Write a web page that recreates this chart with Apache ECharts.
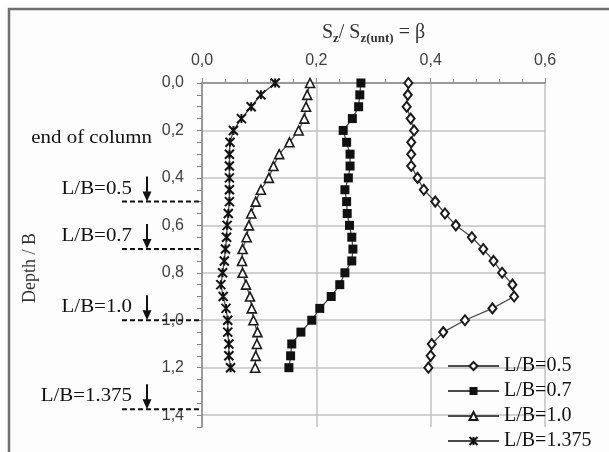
<!DOCTYPE html>
<html><head><meta charset="utf-8">
<script src="https://cdn.jsdelivr.net/npm/echarts@6/dist/echarts.min.js"></script>
<style>html,body{margin:0;padding:0;background:#fff}#c{width:609px;height:452px}</style>
</head><body><div id="c"></div>
<script>
// ---- data ----
const depth = [0.00,0.05,0.10,0.15,0.20,0.25,0.30,0.35,0.40,0.45,0.50,0.55,0.60,0.65,0.70,0.75,0.80,0.85,0.90,0.95,1.00,1.05,1.10,1.15,1.20];
const beta05 = [0.361,0.360,0.358,0.365,0.371,0.366,0.366,0.366,0.377,0.388,0.408,0.425,0.444,0.472,0.492,0.510,0.525,0.543,0.546,0.508,0.460,0.422,0.402,0.400,0.396];
const beta07 = [0.278,0.276,0.274,0.263,0.247,0.253,0.259,0.259,0.256,0.250,0.253,0.254,0.258,0.262,0.264,0.262,0.250,0.241,0.226,0.206,0.192,0.173,0.157,0.155,0.152];
const beta10 = [0.189,0.184,0.182,0.179,0.169,0.153,0.135,0.125,0.117,0.103,0.094,0.086,0.082,0.078,0.071,0.070,0.071,0.077,0.084,0.087,0.090,0.097,0.096,0.094,0.093];
const beta1375 = [0.128,0.103,0.086,0.069,0.055,0.049,0.048,0.048,0.048,0.048,0.048,0.046,0.044,0.043,0.041,0.039,0.036,0.033,0.037,0.042,0.045,0.045,0.047,0.047,0.050];
const seriesNames = ['L/B=0.5','L/B=0.7','L/B=1.0','L/B=1.375'];
const lbDepths = [0.5, 0.7, 1.0, 1.375];
const lbLabels = ['L/B=0.5','L/B=0.7','L/B=1.0','L/B=1.375'];
const columnLabel = 'end of column';
const xTitle = '{m|S}{s|z}{m|/ S}{s|z(unt)}{m| = β}';
const yTitle = 'Depth / B';

// ---- chart ----
const SER = '"Liberation Serif","Times New Roman",serif';
const SANS = '"Liberation Sans",Arial,sans-serif';
const lineGrey = '#4a4a4a';
const fmt = v => (Math.round(v*100)/100).toFixed(1).replace('.', ',');
const ySplit = [];
for (let i = 0; i < 30; i++) ySplit.push(i % 4 === 0 && i <= 28 ? '#c2c2c2' : 'rgba(0,0,0,0)');
const pairs = vals => vals.map((v, i) => [v, depth[i]]);
const star = 'path://M0,0L10,10M10,0L0,10M5,0L5,10';

const chart = echarts.init(document.getElementById('c'), null, {renderer: 'canvas'});
const option = {
  backgroundColor: '#ffffff',
  animation: false,
  grid: {left: 202, top: 83, right: 64, bottom: 25, containLabel: false},
  xAxis: {
    type: 'value', position: 'top', min: 0, max: 0.6, interval: 0.2,
    name: xTitle, nameLocation: 'middle', nameGap: 38,
    nameTextStyle: {rich: {
      m: {fontFamily: SER, fontSize: 20, color: '#333', lineHeight: 24, verticalAlign: 'middle'},
      s: {fontFamily: SER, fontSize: 13, fontWeight: 'bold', color: '#333', lineHeight: 12, verticalAlign: 'bottom'}
    }},
    axisLine: {show: true, lineStyle: {color: '#888', width: 1.5}},
    axisTick: {show: true, inside: false, length: 5, lineStyle: {color: '#888'}},
    minorTick: {show: true, splitNumber: 5, length: 4, lineStyle: {color: '#888'}},
    axisLabel: {margin: 14, fontFamily: SANS, fontSize: 16, color: '#404040', formatter: fmt},
    splitLine: {show: true, lineStyle: {color: '#c2c2c2', width: 1.5}}
  },
  yAxis: {
    type: 'value', inverse: true, min: 0, max: 1.45, interval: 0.05,
    axisLine: {show: true, lineStyle: {color: '#888', width: 1.5}},
    axisTick: {show: true, inside: false, length: 5, lineStyle: {color: '#888'}},
    axisLabel: {margin: 18, fontFamily: SANS, fontSize: 16, color: '#404040',
      formatter: v => { const k = v / 0.2; return Math.abs(k - Math.round(k)) < 1e-6 ? fmt(v) : ''; }},
    splitLine: {show: true, lineStyle: {color: ySplit, width: 1.5}}
  },
  legend: {
    orient: 'vertical', left: 447, top: 356, padding: 0, itemWidth: 51, itemHeight: 10, itemGap: 5,
    data: seriesNames,
    textStyle: {fontFamily: SER, fontSize: 20, color: '#111', lineHeight: 19}
  },
  series: [
    {name: seriesNames[0], type: 'line', data: pairs(beta05), symbol: 'diamond', symbolSize: [8, 10],
     lineStyle: {color: lineGrey, width: 1.3}, itemStyle: {color: '#fff', borderColor: '#1a1a1a', borderWidth: 2}},
    {name: seriesNames[1], type: 'line', data: pairs(beta07), symbol: 'rect', symbolSize: 9,
     lineStyle: {color: lineGrey, width: 1.3}, itemStyle: {color: '#111', borderColor: '#111', borderWidth: 0}},
    {name: seriesNames[2], type: 'line', data: pairs(beta10), symbol: 'triangle', symbolSize: 9,
     lineStyle: {color: lineGrey, width: 1.3}, itemStyle: {color: '#fff', borderColor: '#1a1a1a', borderWidth: 1.6}},
    {name: seriesNames[3], type: 'line', data: pairs(beta1375), symbol: star, symbolSize: 9,
     lineStyle: {color: lineGrey, width: 1.3}, itemStyle: {color: '#111', borderColor: '#111', borderWidth: 2}}
  ]
};
chart.setOption(option);

const axisX = chart.convertToPixel({xAxisIndex: 0}, 0);
const yp = d => chart.convertToPixel({yAxisIndex: 0}, d);
const g = [];
g.push({type: 'rect', z: -100, silent: true, shape: {x: 9, y: 9, width: 700, height: 600},
        style: {fill: '#fdfdfd', stroke: '#6f6f6f', lineWidth: 2.5}});
const txt = (s, x, y, size) => ({type: 'text', z: 100, x: x, y: y, scaleX: 1.1, silent: true,
  style: {text: s, x: 0, y: 0, font: size + 'px ' + SER, fill: '#111', align: 'right', verticalAlign: 'middle',
          textAlign: 'right', textVerticalAlign: 'middle'}});
g.push(txt(columnLabel, 152, 138, 19));
lbDepths.forEach((d, i) => {
  const y = yp(d);
  g.push({type: 'line', z: 100, silent: true, shape: {x1: 122, y1: y, x2: axisX, y2: y},
          style: {stroke: '#111', lineWidth: 2, lineDash: [5, 3]}});
  g.push({type: 'line', z: 100, silent: true, shape: {x1: 147, y1: y - 25, x2: 147, y2: y - 8},
          style: {stroke: '#111', lineWidth: 2}});
  g.push({type: 'polygon', z: 100, silent: true, shape: {points: [[142.5, y - 10], [151.5, y - 10], [147, y]]},
          style: {fill: '#111'}});
  g.push(txt(lbLabels[i], 132, y - 13, 19));
});
g.push({type: 'text', z: 100, x: 30, y: 268, rotation: Math.PI / 2, silent: true,
  style: {text: yTitle, x: 0, y: 0, font: '18px ' + SER, fill: '#333', align: 'center', verticalAlign: 'middle',
          textAlign: 'center', textVerticalAlign: 'middle'}});
chart.setOption({graphic: g});
</script></body></html>
